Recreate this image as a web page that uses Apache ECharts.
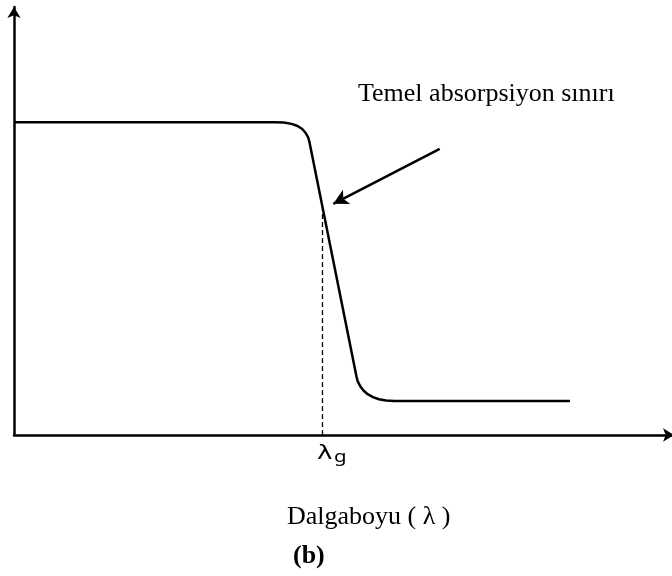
<!DOCTYPE html>
<html>
<head>
<meta charset="utf-8">
<script src="https://cdn.jsdelivr.net/npm/echarts@6/dist/echarts.min.js"></script>
<style>
  html, body { margin: 0; padding: 0; background: #fff; }
  #chart { width: 672px; height: 576px; }
</style>
</head>
<body>
<div id="chart"></div>
<script>
// Absorption edge curve: wavelength (arbitrary units) vs absorption (arbitrary units)
const wavelength = [0, 39.5, 40.8, 42.0, 42.9, 43.6, 44.1, 44.5, 44.7, 51.8, 52.0, 52.4, 52.9, 53.5, 54.3, 55.2, 56.3, 57.5, 84.1];
const absorption = [73.6, 73.6, 73.5, 73.2, 72.7, 72.0, 71.1, 70.0, 68.9, 13.8, 12.6, 11.4, 10.4, 9.6, 8.9, 8.4, 8.1, 8.0, 8.0];

// Band-gap wavelength and the height where its guide meets the curve
const lambdaG = 46.7;
const lambdaGLevel = 53.0;

// Callout arrow pointing at the absorption edge
const calloutFrom = [64.4, 67.3];
const calloutTo = [48.3, 54.4];

const calloutText = 'Temel absorpsiyon sınırı';
const gapSymbol = 'λ';
const gapSubscript = 'g';
const xAxisTitle = 'Dalgaboyu ( λ )';
const panelTag = '(b)';

const curve = wavelength.map((w, i) => [w, absorption[i]]);

const chart = echarts.init(document.getElementById('chart'), null, { renderer: 'canvas' });

function axis(max) {
  return {
    type: 'value',
    min: 0,
    max: max,
    axisLine: {
      show: true,
      onZero: false,
      symbol: ['none', 'arrow'],
      symbolSize: [10, 11],
      lineStyle: { color: '#000', width: 2.5 }
    },
    axisTick: { show: false },
    axisLabel: { show: false },
    splitLine: { show: false }
  };
}

chart.setOption({
  animation: false,
  backgroundColor: '#fff',
  // the x axis runs right up to the edge, so its arrowhead is partly cut off
  grid: { left: 14, top: 7, width: 660, height: 428, outerBoundsMode: 'none', containLabel: false },
  xAxis: axis(99.84),
  yAxis: axis(100.7),
  series: [
    {
      type: 'line',
      data: curve,
      showSymbol: false,
      smooth: false,
      clip: false,
      lineStyle: { color: '#000', width: 2.5, join: 'round' },
      markLine: {
        silent: true,
        symbol: ['none', 'none'],
        label: { show: false },
        lineStyle: { color: '#000', width: 1.3, type: [5, 3] },
        data: [[{ coord: [lambdaG, 0] }, { coord: [lambdaG, lambdaGLevel] }]]
      }
    },
    {
      type: 'line',
      data: [],
      markLine: {
        silent: true,
        symbol: ['none', 'arrow'],
        symbolSize: [12, 15],
        label: { show: false },
        lineStyle: { color: '#000', width: 2.5, type: 'solid' },
        data: [[{ coord: calloutFrom }, { coord: calloutTo }]]
      }
    }
  ],
  graphic: [
    {
      type: 'text',
      left: 358,
      top: 81,
      style: {
        text: calloutText,
        font: '26px "Liberation Serif"',
        fill: '#000'
      }
    },
    {
      type: 'text',
      x: 317,
      y: 444,
      scaleX: 1.3,
      style: {
        text: gapSymbol,
        font: '20px "DejaVu Sans"',
        fill: '#000'
      }
    },
    {
      type: 'text',
      x: 334,
      y: 449,
      scaleX: 1.2,
      style: {
        text: gapSubscript,
        font: '17px "Noto Sans"',
        fill: '#000'
      }
    },
    {
      type: 'text',
      left: 287,
      top: 504,
      style: {
        text: xAxisTitle,
        font: '26px "Liberation Serif"',
        fill: '#000'
      }
    },
    {
      type: 'text',
      left: 293,
      top: 543,
      style: {
        text: panelTag,
        font: 'bold 26px "Liberation Serif"',
        fill: '#000'
      }
    }
  ]
});
</script>
</body>
</html>
